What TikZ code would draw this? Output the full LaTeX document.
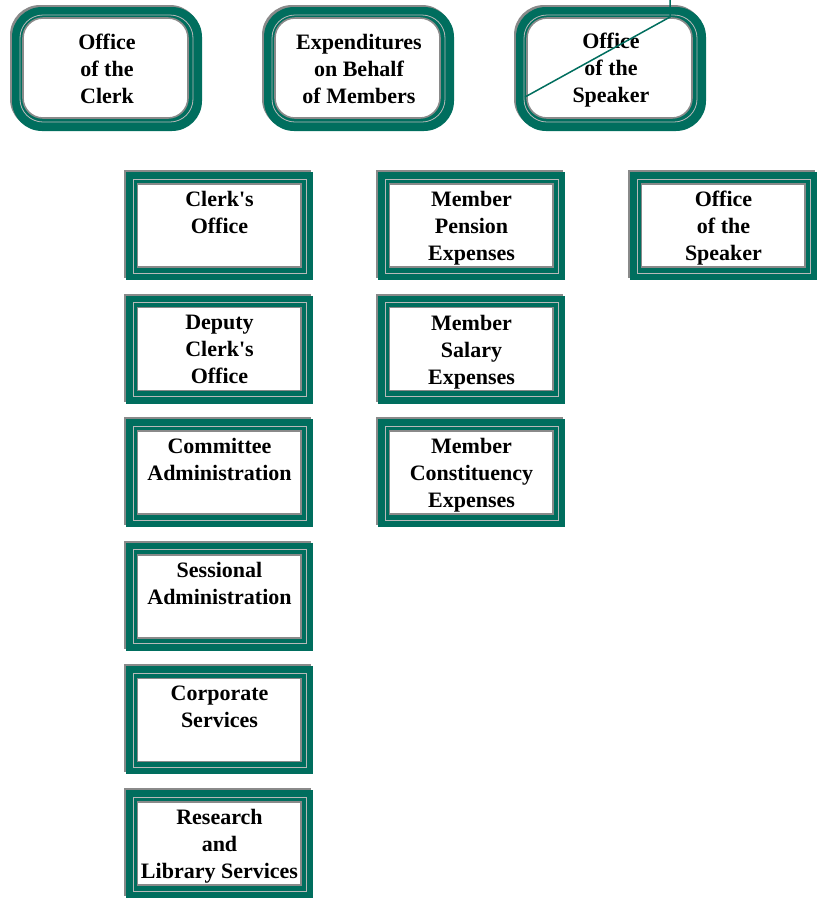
\documentclass[tikz,border=0pt]{standalone}
\usepackage{fontspec}
\setmainfont{Liberation Serif}[Ligatures=TeXOff]
\usetikzlibrary{shadows}
\definecolor{tealc}{RGB}{0,110,94}
\definecolor{shadec}{RGB}{138,138,138}
\tikzset{
  boxtext/.style={font=\bfseries\fontsize{22}{27}\selectfont, align=center, inner sep=0pt},
  sqbox/.style={rectangle, fill=tealc, draw=none, minimum width=187pt, minimum height=108pt,
    inner sep=0pt, outer sep=0pt,
    general shadow={fill=shadec, shadow xshift=-2pt, shadow yshift=2pt},
    path picture={
      \draw[shadec!60, line width=0.8pt]
        ([shift={(7pt,-7pt)}]path picture bounding box.north west) rectangle
        ([shift={(-7pt,7pt)}]path picture bounding box.south east);
      \draw[fill=white, draw=shadec, line width=1.6pt]
        ([shift={(11.5pt,-12pt)}]path picture bounding box.north west) rectangle
        ([shift={(-12pt,13pt)}]path picture bounding box.south east);
    }},
  rdbox/.style={rectangle, rounded corners=30pt, fill=tealc, draw=none,
    minimum width=190pt, minimum height=124pt, inner sep=0pt, outer sep=0pt,
    general shadow={fill=shadec, shadow xshift=-2pt, shadow yshift=2pt},
    path picture={
      \draw[shadec!60, line width=0.8pt, rounded corners=23pt]
        ([shift={(8pt,-8pt)}]path picture bounding box.north west) rectangle
        ([shift={(-9pt,9pt)}]path picture bounding box.south east);
      \draw[fill=white, draw=shadec, line width=1.6pt, rounded corners=20pt]
        ([shift={(11pt,-11pt)}]path picture bounding box.north west) rectangle
        ([shift={(-14pt,13pt)}]path picture bounding box.south east);
    }},
  linkline/.style={draw=tealc, line width=1.5pt},
}
\begin{document}
\begin{tikzpicture}[x=1pt,y=-1pt]
\useasboundingbox (0,0) rectangle (817,898);

% top rounded boxes
\node[rdbox] (clerkoff) at (107,69) {};
\node[boxtext] (clerkofft) at (clerkoff.center) {Office\\of the\\Clerk};
\node[rdbox] (expend) at (359,69) {};
\node[boxtext] (expendt) at (expend.center) {Expenditures\\on Behalf\\of Members};
\node[rdbox] (speakoff) at (611,69) {};
\node[boxtext] (speakofft) at ([yshift=-1pt]speakoff.center) {Office\\of the\\Speaker};

% column 1
\node[sqbox] (c1) at (219.5,226) {};
\node[boxtext, anchor=north] (c1t) at ([yshift=-19pt]c1.north) {Clerk's\\Office};
\node[sqbox] (c2) at (219.5,349.6) {};
\node[boxtext, anchor=north] (c2t) at ([yshift=-19pt]c2.north) {Deputy\\Clerk's\\Office};
\node[sqbox] (c3) at (219.5,473.2) {};
\node[boxtext, anchor=north] (c3t) at ([yshift=-19pt]c3.north) {Committee\\Administration};
\node[sqbox] (c4) at (219.5,596.8) {};
\node[boxtext, anchor=north] (c4t) at ([yshift=-19pt]c4.north) {Sessional\\Administration};
\node[sqbox] (c5) at (219.5,720.4) {};
\node[boxtext, anchor=north] (c5t) at ([yshift=-19pt]c5.north) {Corporate\\Services};
\node[sqbox] (c6) at (219.5,844) {};
\node[boxtext, anchor=north] (c6t) at ([yshift=-19pt]c6.north) {Research\\and\\Library Services};

% column 2
\node[sqbox] (m1) at (471.5,226) {};
\node[boxtext, anchor=north] (m1t) at ([yshift=-19pt]m1.north) {Member\\Pension\\Expenses};
\node[sqbox] (m2) at (471.5,349.6) {};
\node[boxtext, anchor=north] (m2t) at ([yshift=-19pt]m2.north) {Member\\Salary\\Expenses};
\node[sqbox] (m3) at (471.5,473.2) {};
\node[boxtext, anchor=north] (m3t) at ([yshift=-19pt]m3.north) {Member\\Constituency\\Expenses};

% column 3
\node[sqbox] (s1) at (723.5,226) {};
\node[boxtext, anchor=north] (s1t) at ([yshift=-19pt]s1.north) {Office\\of the\\Speaker};

% stray connector across the Speaker box
\coordinate (lineA) at (670,0);
\coordinate (lineB) at (670,17);
\coordinate (lineC) at (525,97);
\draw[linkline] (lineA) -- (lineB) -- (lineC);
\end{tikzpicture}
\end{document}
